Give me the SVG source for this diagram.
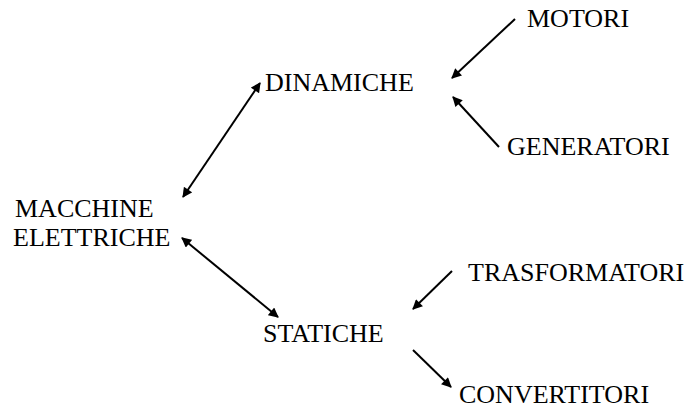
<svg xmlns="http://www.w3.org/2000/svg" width="691" height="408" viewBox="0 0 691 408">
<style>
text{font-family:"Liberation Serif","Times New Roman",serif;font-size:26px;fill:#000}
.c line{stroke:#000;stroke-width:2}
</style>
<defs>
<marker id="ah" viewBox="0 0 10 10" refX="9" refY="5" markerWidth="5.5" markerHeight="5" orient="auto-start-reverse" markerUnits="strokeWidth">
<path d="M0,0 L10,5 L0,10 z" fill="#000"/>
</marker>
</defs>
<rect width="691" height="408" fill="#fff"/>
<g class="c" id="connectors">
<line x1="183" y1="197" x2="260" y2="83" marker-start="url(#ah)" marker-end="url(#ah)"/>
<line x1="182" y1="238" x2="278" y2="317" marker-start="url(#ah)" marker-end="url(#ah)"/>
<line x1="515" y1="19" x2="452" y2="78" marker-end="url(#ah)"/>
<line x1="499" y1="147" x2="453" y2="97" marker-end="url(#ah)"/>
<line x1="452" y1="271" x2="413" y2="309" marker-end="url(#ah)"/>
<line x1="413" y1="350" x2="451" y2="387" marker-end="url(#ah)"/>
</g>
<g id="macchine"><text x="15" y="217">MACCHINE</text><text x="13" y="246">ELETTRICHE</text></g>
<g id="dinamiche"><text x="265" y="91">DINAMICHE</text></g>
<g id="statiche"><text x="263" y="342">STATICHE</text></g>
<g id="motori"><text x="527" y="27">MOTORI</text></g>
<g id="generatori"><text x="507" y="155">GENERATORI</text></g>
<g id="trasformatori"><text x="468" y="281">TRASFORMATORI</text></g>
<g id="convertitori"><text x="459" y="403">CONVERTITORI</text></g>
</svg>
